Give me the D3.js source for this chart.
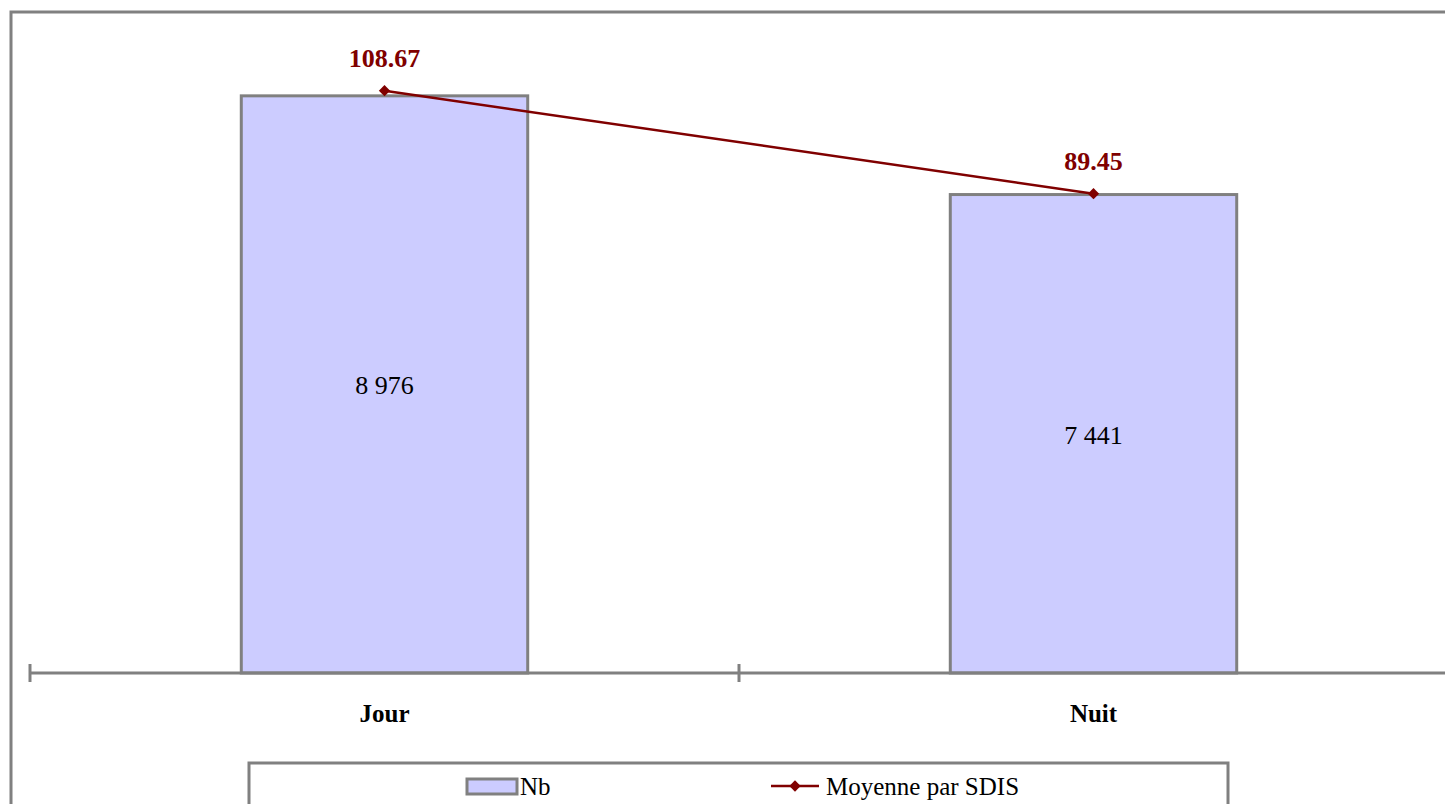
<!DOCTYPE html>
<html>
<head>
<meta charset="utf-8">
<script src="https://cdn.jsdelivr.net/npm/d3@7"></script>
<style>
  html, body { margin: 0; padding: 0; background: #fff; }
  svg { display: block; }
  text { font-family: "Liberation Serif", "Times New Roman", serif; }
</style>
</head>
<body>
<svg id="chart" width="1445" height="804"></svg>
<script>
const categories = ["Jour", "Nuit"];
const nbValues = [8976, 7441];
const meanValues = [108.67, 89.45];
const seriesNames = ["Nb", "Moyenne par SDIS"];
const yDomain = [0, 10000];
const y2Domain = [0, 120];

const svg = d3.select("#chart");
const grey = "#808080";
const barFill = "#CCCCFF";
const lineColor = "#800000";

// outer chart frame
svg.append("rect")
  .attr("x", 11).attr("y", 12)
  .attr("width", 1445).attr("height", 900)
  .attr("fill", "#fff").attr("stroke", grey).attr("stroke-width", 3);

const plot = { left: 30, right: 1448, top: 30, bottom: 673 };

const x = d3.scaleBand().domain(categories).range([plot.left, plot.right]).padding(0);
const y = d3.scaleLinear().domain(yDomain).range([plot.bottom, plot.top]);
const y2 = d3.scaleLinear().domain(y2Domain).range([plot.bottom, plot.top]);
const barW = x.bandwidth() * 0.404;

const frFmt = d3.formatLocale({ decimal: ",", thousands: " ", grouping: [3], currency: ["", " €"] }).format(",d");
const meanFmt = d3.format(".2f");

// bars
svg.append("g").selectAll("rect")
  .data(categories)
  .join("rect")
  .attr("x", (d) => x(d) + x.bandwidth() / 2 - barW / 2)
  .attr("y", (d, i) => y(nbValues[i]))
  .attr("width", barW)
  .attr("height", (d, i) => y(0) - y(nbValues[i]))
  .attr("fill", barFill)
  .attr("stroke", grey)
  .attr("stroke-width", 3);

// bar value labels
svg.append("g").selectAll("text")
  .data(categories)
  .join("text")
  .attr("x", (d) => x(d) + x.bandwidth() / 2)
  .attr("y", (d, i) => (y(nbValues[i]) + y(0)) / 2 + 10)
  .attr("text-anchor", "middle")
  .attr("font-size", 26)
  .attr("fill", "#000")
  .text((d, i) => frFmt(nbValues[i]));

// x axis
const axisG = svg.append("g").attr("transform", `translate(0,${plot.bottom})`);
axisG.append("line")
  .attr("x1", plot.left).attr("x2", 1445)
  .attr("stroke", grey).attr("stroke-width", 3);
const tickPos = categories.map((c) => x(c));
axisG.selectAll("line.tick")
  .data(tickPos)
  .join("line")
  .attr("class", "tick")
  .attr("x1", (d) => d).attr("x2", (d) => d)
  .attr("y1", -9).attr("y2", 9)
  .attr("stroke", grey).attr("stroke-width", 3);
axisG.selectAll("text")
  .data(categories)
  .join("text")
  .attr("x", (d) => x(d) + x.bandwidth() / 2)
  .attr("y", 49)
  .attr("text-anchor", "middle")
  .attr("font-size", 25)
  .attr("font-weight", "bold")
  .attr("fill", "#000")
  .text((d) => d);

// line series
const line = d3.line()
  .x((d, i) => x(categories[i]) + x.bandwidth() / 2)
  .y((d) => y2(d));
svg.append("path")
  .datum(meanValues)
  .attr("d", line)
  .attr("fill", "none")
  .attr("stroke", lineColor)
  .attr("stroke-width", 2.5);

const diamond = d3.symbol().type(d3.symbolSquare).size(64);
svg.append("g").selectAll("path")
  .data(meanValues)
  .join("path")
  .attr("transform", (d, i) => `translate(${x(categories[i]) + x.bandwidth() / 2},${y2(d)}) rotate(45)`)
  .attr("d", diamond)
  .attr("fill", lineColor);

svg.append("g").selectAll("text")
  .data(meanValues)
  .join("text")
  .attr("x", (d, i) => x(categories[i]) + x.bandwidth() / 2)
  .attr("y", (d) => y2(d) - 24)
  .attr("text-anchor", "middle")
  .attr("font-size", 26)
  .attr("font-weight", "bold")
  .attr("fill", lineColor)
  .text((d) => meanFmt(d));

// legend
const lg = svg.append("g");
lg.append("rect")
  .attr("x", 249).attr("y", 763)
  .attr("width", 979).attr("height", 100)
  .attr("fill", "#fff").attr("stroke", grey).attr("stroke-width", 3);
lg.append("rect")
  .attr("x", 467).attr("y", 779)
  .attr("width", 50).attr("height", 15)
  .attr("fill", barFill).attr("stroke", grey).attr("stroke-width", 3);
lg.append("text")
  .attr("x", 520).attr("y", 795)
  .attr("font-size", 25)
  .attr("fill", "#000")
  .text(seriesNames[0]);
lg.append("line")
  .attr("x1", 771).attr("x2", 819)
  .attr("y1", 786).attr("y2", 786)
  .attr("stroke", lineColor).attr("stroke-width", 2.5);
lg.append("path")
  .attr("transform", "translate(795,786) rotate(45)")
  .attr("d", diamond)
  .attr("fill", lineColor);
lg.append("text")
  .attr("x", 826).attr("y", 795)
  .attr("font-size", 25)
  .attr("fill", "#000")
  .text(seriesNames[1]);
</script>
</body>
</html>
